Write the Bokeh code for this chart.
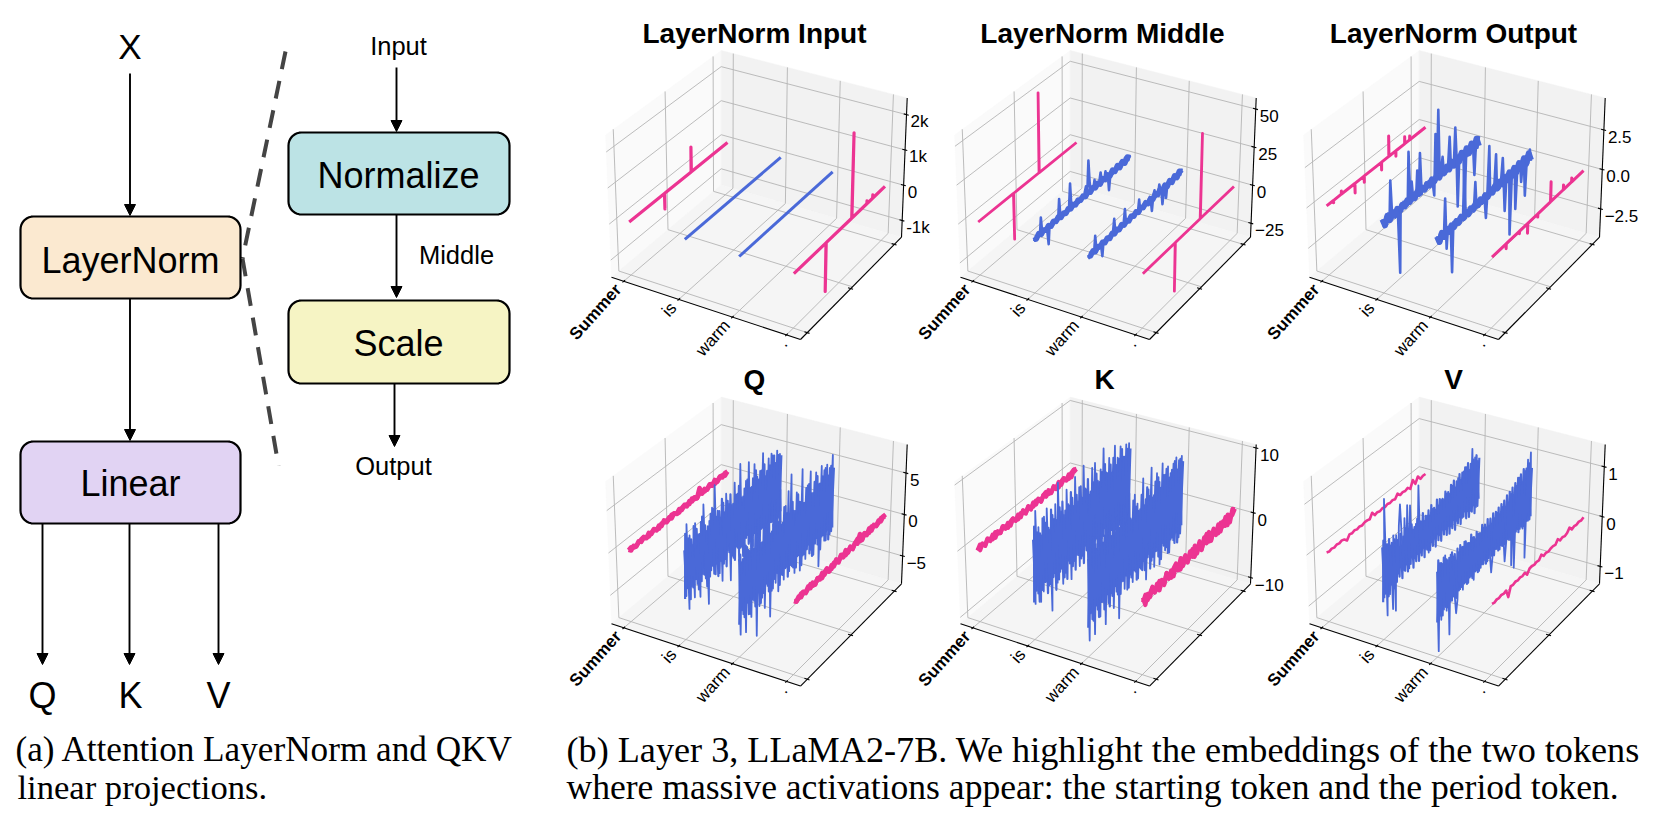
import numpy as np
from bokeh.plotting import figure
from bokeh.models import Range1d, Arrow, NormalHead
from bokeh.core.properties import value
from bokeh.embed import file_html
from bokeh.resources import INLINE

# ---------------- data ----------------
tokens = ["Summer", "is", "warm", "."]
dim_ticks = [0, 2000, 4000]

titles = ["LayerNorm Input", "LayerNorm Middle", "LayerNorm Output", "Q", "K", "V"]

input_z_ticks = [-1000, 0, 1000, 2000]
input_z_labels = ["-1k", "0", "1k", "2k"]
middle_z_ticks = [-25, 0, 25, 50]
middle_z_labels = ["\u221225", "0", "25", "50"]
output_z_ticks = [-2.5, 0.0, 2.5]
output_z_labels = ["\u22122.5", "0.0", "2.5"]
q_z_ticks = [-5, 0, 5]
q_z_labels = ["\u22125", "0", "5"]
k_z_ticks = [-10, 0, 10]
k_z_labels = ["\u221210", "0", "10"]
v_z_ticks = [-1, 0, 1]
v_z_labels = ["\u22121", "0", "1"]

input_summer_dim = [0, 1470, 1475, 1480, 2580, 2585, 2590, 4095]
input_summer_val = [0, 0, -440, 0, 0, 712, 0, 0]
input_is_dim = [0, 4095]
input_is_val = [0, 0]
input_warm_dim = [0, 4095]
input_warm_val = [0, 0]
input_period_dim = [0, 1446, 1450, 1454, 2601, 2605, 2609, 3280, 3285, 3290, 3540, 3545, 3550, 4095]
input_period_val = [0, 0, -1340, 0, 0, 2380, 0, 0, 80, 0, 0, 90, 0, 0]

middle_summer_dim = [0, 1470, 1475, 1480, 2535, 2540, 2545, 4095]
middle_summer_val = [0, 0, -30, 0, 0, 53, 0, 0]
middle_period_dim = [0, 1454, 1458, 1462, 2576, 2580, 2584, 4095]
middle_period_val = [0, 0, -31, 0, 0, 55, 0, 0]
middle_is = [1.2, -1.5, 0.8, -1.3, 1.0, -0.9, 10.0, -1.2, 0.9, -1.0,
             0.7, -1.4, -11.0, 1.1, -0.8, 1.3, -1.1, 0.6, -0.7, 1.0,
             -1.2, 12.0, -0.9, 0.8, -1.0, 1.2, -0.6, 0.9, -1.3, 0.7,
             16.0, -1.0, 0.8, -0.9, 1.1, -0.7, 0.6, -1.2, 0.9, -0.8,
             1.3, -1.0, 2.5, 5.5, -0.9, 21.0, 6.0, -1.1, 1.5, -0.7,
             5.0, -1.2, 1.0, -0.8, 1.4, 6.5, -0.9, 1.2, -1.0, 4.5,
             -1.1, 0.9, -10.0, -0.8, 1.6, -1.3, 1.0, -0.9, 1.7, -1.2,
             0.8, 2.0, -1.4, 1.5, -1.0, 2.4, -1.6, 2.2, -1.2, 1.8]
middle_is_band = [0.9, -1.0, 1.1, -0.8, 0.7, -0.9, 0.8, -1.0, 0.9, -0.7,
                  1.0, -0.8, 0.6, -0.9, 0.8, -0.7, 0.9, -0.8, 1.0, -0.6,
                  0.8, -0.9, 0.7, -0.8, 1.0, -0.7, 0.9, -1.0, 1.2, -0.8,
                  1.0, -1.1, 1.3, -1.0, 1.5, -1.2, 1.4, -1.1, 1.6, -1.0]
middle_warm = [1.0, -1.6, 1.3, -1.1, 0.9, -1.4, 9.0, -1.0, 1.2, -1.3,
               0.8, -1.0, -8.0, 1.1, -1.2, 0.7, -0.9, 1.0, -1.3, 0.8,
               -1.0, 1.2, 9.0, -0.8, 1.0, -1.1, 0.7, -0.9, 1.2, -1.0,
               0.6, 9.2, -1.0, 0.9, -1.2, 1.0, -0.7, 0.9, -1.1, 0.8,
               -0.9, 1.3, -1.0, 7.0, -1.2, 1.1, -0.8, 1.4, -1.0, 0.9,
               -1.1, 1.2, 2.5, -0.9, -8.0, 1.4, 4.0, -1.0, 1.3, -1.1,
               5.0, 1.0, -0.9, -10.0, -1.0, 1.5, -8.0, 1.2, -1.2, 1.6,
               -1.1, 1.4, -1.5, 2.0, -1.0, 1.8, -1.6, 2.6, -1.3, 2.2]
middle_warm_band = [1.0, -0.9, 0.8, -1.1, 0.9, -0.7, 0.8, -0.9, 0.7, -1.0,
                    0.9, -0.8, 0.7, -0.9, 1.0, -0.8, 0.6, -0.9, 0.9, -0.7,
                    0.8, -1.0, 0.9, -0.7, 1.1, -0.9, 0.8, -1.0, 1.1, -0.8,
                    1.2, -1.0, 1.3, -1.1, 1.4, -1.2, 1.6, -1.0, 1.8, -1.2]

output_summer_dim = [0, 283, 287, 291, 610, 614, 618, 1167, 1171, 1175, 1552, 1556, 1560, 2269, 2273, 2277,
                     2576, 2580, 2584, 2863, 2867, 2871, 3231, 3235, 3239, 3436, 3440, 3444, 4095]
output_summer_val = [0, 0, -0.15, 0, 0, 0.2, 0, 0, -0.6, 0, 0, -0.4, 0, 0, -0.5, 0,
                     0, 1.3, 0, 0, -0.35, 0, 0, 0.45, 0, 0, 0.25, 0, 0]
output_period_dim = [0, 631, 635, 639, 1224, 1228, 1232, 1593, 1597, 1601, 2044, 2048, 2052,
                     2617, 2621, 2625, 3190, 3194, 3198, 3559, 3563, 3567, 4095]
output_period_val = [0, 0, -0.3, 0, 0, -0.15, 0, 0, -0.6, 0, 0, -0.2, 0,
                     0, 1.25, 0, 0, 0.3, 0, 0, 0.25, 0, 0]
output_is = [0.25, -0.3, 0.2, -0.25, 0.3, -0.2, 2.2, -0.25, 0.2, -0.3,
             0.22, -0.18, -3.95, 0.2, -0.25, 0.24, -0.2, 0.18, -0.22, 3.05,
             -0.2, 1.06, -0.18, 0.2, -0.24, 1.45, -0.2, 2.4, -0.22, 0.18,
             -0.2, 0.24, -0.18, 0.2, -0.22, 0.18, -0.2, -1.0, 2.8, 0.2,
             4.2, -0.2, 0.22, 1.0, -0.24, 0.2, -0.18, 0.24, 1.9, -0.2,
             0.22, -0.24, 2.2, 0.2, -3.0, 0.24, -0.2, 0.26, -0.22, -3.1,
             0.24, -0.26, 0.28, -0.2, 0.3, -0.28, -1.9, 0.34, -0.3, 0.38]
output_is_band = [0.24, -0.26, 0.2, -0.18, 0.14, -0.16, 0.12, -0.14, 0.1, -0.12,
                  0.13, -0.11, 0.1, -0.13, 0.12, -0.1, 0.13, -0.12, 0.1, -0.12,
                  0.14, -0.11, 0.13, -0.14, 0.16, -0.12, 0.15, -0.16, 0.2, -0.18,
                  0.22, -0.2, 0.24, -0.22, 0.26, -0.2, 0.3, -0.24, 0.34, -0.26]
output_warm = [0.24, -0.28, 0.2, -0.3, 0.22, -0.25, 2.1, -1.05, 0.2, -0.24,
               0.18, -2.8, 0.22, -0.2, 0.24, -0.18, 0.2, -0.22, 0.18, -0.2,
               3.3, -0.22, 0.2, -0.18, 0.24, -0.2, 0.18, -0.24, 1.5, -0.2,
               0.22, -0.18, 0.2, -0.24, 0.18, -0.2, -1.35, 0.22, 3.0, -0.2,
               0.24, -0.18, 0.2, 2.1, -0.22, 0.18, -0.24, 0.2, 1.5, -0.2,
               -2.0, 0.22, -0.24, 0.2, -3.8, 0.26, -0.2, 0.24, -2.5, 0.28,
               -0.22, 0.26, -1.1, 0.3, -0.26, -2.2, 0.34, -0.28, 0.5, -0.3]
output_warm_band = [0.22, -0.24, 0.18, -0.2, 0.14, -0.15, 0.12, -0.13, 0.11, -0.12,
                    0.12, -0.1, 0.11, -0.13, 0.1, -0.11, 0.12, -0.1, 0.13, -0.11,
                    0.12, -0.13, 0.14, -0.12, 0.15, -0.13, 0.16, -0.14, 0.18, -0.16,
                    0.2, -0.18, 0.22, -0.2, 0.25, -0.2, 0.28, -0.22, 0.32, -0.24]

q_summer = [0.14, -0.18, 0.12, -0.15, 0.2, -0.12, 0.16, -0.17, 0.24, -0.14,
            0.15, -0.2, 0.13, -0.16, 0.28, -0.12, 0.17, -0.2, 0.16, -0.14,
            0.2, -0.16, 0.13, -0.22, 0.18, -0.12, 0.16, -0.18, 0.8, -0.15,
            0.2, -0.14, 0.17, -0.16, 0.3, -0.16, 0.18, -0.14, 0.17, 0.1]
q_summer_band = [0.1, 0.2, -0.08, -0.22, 0.05, 0.18, 0.24, -0.1, -0.2, 0.02,
                 0.22, -0.12, -0.24, 0.16, 0.08, -0.2, -0.06, 0.26, 0.12, -0.16,
                 -0.24, 0.1, 0.22, 0.02, -0.18, 0.26, -0.08, -0.22, 0.14, 0.2,
                 -0.14, -0.04, 0.28, 0.06, -0.2, -0.1, 0.24, 0.14, -0.18, 0.08]
q_period = [0.14, -0.17, 0.13, -0.2, 0.18, -0.14, 0.26, -0.16, 0.2, -0.26,
            0.15, -0.2, 0.3, -0.16, 0.24, -0.32, 0.17, -0.22, 0.34, -0.16,
            0.24, -0.2, 0.38, -0.17, 0.22, -0.28, 0.2, -0.16, 0.72, -0.22,
            0.3, -0.18, 0.34, -0.2, 0.24, -0.16, 0.22, -0.14, 0.2, 0.15]
q_period_band = [0.12, -0.2, -0.06, 0.22, 0.16, -0.24, 0.04, 0.3, -0.16, -0.28,
                 0.2, 0.08, -0.3, 0.14, 0.34, -0.12, -0.26, 0.22, 0.04, -0.3,
                 0.36, 0.1, -0.22, -0.08, 0.3, -0.2, 0.16, 0.42, -0.14, -0.26,
                 0.24, 0.06, -0.22, 0.32, 0.12, -0.18, -0.06, 0.26, 0.14, -0.1]
q_is = [2.1, -3.4, 4.9, -5.2, 3.3, -2.8, 1.9, -4.4, 4.2, -3.1,
        2.6, -4.9, 3.8, -2.5, 5.6, -3.3, 2.2, -6.6, 3.1, -2.9,
        4.4, -3.6, 6.8, -2.7, 3.5, -4.1, 2.4, -5.3, 3.9, -3.0,
        4.7, -2.2, 3.2, -6.1, 2.8, -3.7, 5.2, -2.6, 3.6, -4.6,
        6.9, -3.2, 2.7, -3.9, 4.3, -2.4, 6.3, -3.5, 3.0, -4.3,
        5.5, -2.9, 3.7, -5.0, 4.1, -3.1, 6.0, -3.8, 2.9, -4.2,
        4.8, -2.8, 5.1, -3.4, 4.6, -4.7, 4.9, -3.6, 4.2, -3.0]
q_is_band = [-3.6, 3.9, -2.6, 3.1, -4.2, 2.7, -3.1, 4.0, -2.4, 3.4,
             -3.9, 2.5, -3.2, 4.3, -2.7, 3.0, -4.4, 2.6, -3.5, 3.8,
             -2.5, 4.1, -3.8, 2.9, -4.3, 3.3, -2.8, 4.5, -3.4, 2.6,
             -4.0, 3.7, -2.6, 4.2, -3.3, 2.8, -4.1, 3.6, -2.9, 4.4,
             -3.2, 2.7, -4.5, 3.5, -2.6, 4.3, -3.6, 3.0, -4.2, 3.9,
             -2.9, 4.6, -3.7, 3.2, -4.4, 4.0, -3.1, 4.5, -3.9, 3.4,
             -4.6, 3.8, -3.3, 4.7, -4.1, 3.5, -4.5, 4.2, -3.6, 3.9]
q_warm = [3.0, -5.9, 2.4, -3.8, 4.3, -6.2, 3.6, -4.4, 2.9, -5.0,
          3.9, -3.4, 5.1, -7.8, 3.2, -4.6, 2.7, -3.9, 4.6, -5.4,
          3.4, -3.1, 5.5, -7.0, 2.9, -4.0, 6.2, -3.6, 3.8, -4.9,
          7.0, -3.2, 2.8, -4.1, 4.5, -2.9, 6.0, -3.7, 7.7, -3.4,
          3.1, -4.5, 5.0, -2.8, 3.6, -4.8, 7.2, -3.3, 2.9, -4.0,
          4.7, -2.6, 6.1, -3.5, 3.2, -4.4, 5.4, -2.7, 3.7, -6.4,
          5.6, -3.1, 4.8, -3.9, 5.2, -2.9, 4.5, -3.7, 5.8, -3.2]
q_warm_band = [-4.6, 3.4, -3.2, 2.6, -4.3, 3.9, -2.9, 3.1, -4.5, 3.7,
               -3.1, 2.7, -4.2, 4.1, -2.8, 3.2, -4.4, 2.6, -3.5, 3.9,
               -2.7, 4.2, -3.9, 2.8, -4.1, 3.6, -3.0, 4.4, -2.6, 3.3,
               -4.3, 2.7, -3.4, 4.5, -2.9, 3.5, -4.2, 2.8, -3.1, 4.3,
               -3.7, 2.9, -4.0, 4.6, -2.8, 3.4, -4.3, 3.0, -3.3, 4.5,
               -3.0, 4.7, -3.8, 3.3, -4.4, 4.4, -3.2, 4.8, -3.6, 3.6,
               -4.5, 4.2, -3.1, 4.9, -4.0, 3.7, -4.2, 4.6, -3.5, 4.1]

k_summer = [0.3, -0.45, 0.25, -0.32, 0.4, -0.28, 0.34, -0.4, 0.28, -0.3,
            0.44, -0.25, 0.3, -0.38, 0.36, -0.28, 0.34, -0.36, 0.42, -0.3,
            0.28, -0.4, 0.36, -0.26, 0.34, -0.44, 0.3, -0.28, 0.38, -0.34,
            0.26, -0.36, 0.42, -0.3, 0.34, -0.28, 0.36, -0.38, 0.5, 0.3]
k_summer_band = [-0.2, 0.4, 0.1, -0.42, 0.3, 0.05, -0.36, 0.46, -0.1, -0.3,
                 0.38, 0.12, -0.44, 0.22, 0.4, -0.16, -0.38, 0.3, 0.02, -0.42,
                 0.44, -0.06, -0.3, 0.36, 0.14, -0.4, 0.28, 0.46, -0.2, -0.34,
                 0.4, -0.02, -0.44, 0.24, 0.42, -0.12, -0.36, 0.32, 0.46, -0.24]
k_period = [0.4, -1.0, 0.3, -0.5, 0.6, -0.4, 0.5, -0.8, 0.4, -0.55,
            0.75, -0.4, 0.5, -0.7, 0.6, -0.45, 1.0, -0.5, 0.55, -0.65,
            0.7, -0.45, 0.9, -0.6, 0.5, -0.75, 0.8, -0.4, 0.95, -0.6,
            0.6, -0.5, 0.75, -0.65, 0.55, -0.45, 0.9, -0.6, 1.1, 0.7]
k_period_band = [-0.3, 0.5, -0.6, 0.1, 0.7, -0.5, -0.1, 0.6, 0.2, -0.7,
                 0.8, -0.2, -0.6, 0.5, 0.9, -0.4, -0.7, 0.3, 0.8, -0.5,
                 0.1, 0.7, -0.8, -0.1, 0.9, -0.6, 0.4, 1.0, -0.5, -0.7,
                 0.8, 0.2, -0.6, 0.7, -0.2, 0.9, -0.7, 0.5, 0.2, 0.8]
k_is = [4.0, -5.8, 8.0, -4.6, 5.2, -6.2, 3.6, -5.0, 6.1, -3.9,
        7.0, -4.8, 3.4, -9.0, 5.3, -3.7, 6.6, -5.5, 9.5, -4.2,
        4.8, -6.4, 3.9, -5.1, 7.4, -3.6, 4.6, -6.8, 5.5, -4.4,
        8.3, -3.8, 4.2, -5.9, 6.2, -4.7, 9.0, -3.5, 5.0, -6.0,
        3.8, -5.2, 7.6, -4.1, 8.0, -3.9, 4.9, -6.5, 6.3, -4.6,
        9.2, -3.4, 5.1, -5.6, 7.0, -4.3, 4.4, -6.7, 8.2, -5.0,
        6.0, -4.2, 7.4, -6.9, 5.4, -4.8, 7.0, -5.7, 6.8, -7.0]
k_is_band = [-5.4, 5.8, -4.0, 4.6, -6.0, 4.1, -4.6, 6.0, -3.8, 5.0,
             -5.8, 3.9, -4.8, 6.3, -4.1, 4.5, -6.4, 4.0, -5.2, 5.6,
             -3.9, 6.1, -5.6, 4.4, -6.2, 5.0, -4.2, 6.5, -5.0, 4.0,
             -5.9, 5.4, -4.0, 6.2, -4.9, 4.2, -6.0, 5.3, -4.4, 6.4,
             -4.8, 4.1, -6.5, 5.2, -4.0, 6.2, -5.3, 4.5, -6.1, 5.7,
             -4.4, 6.6, -5.5, 4.8, -6.4, 5.8, -4.6, 6.5, -5.7, 5.0,
             -6.6, 5.6, -4.9, 6.8, -6.0, 5.2, -6.5, 6.1, -5.3, 5.8]
k_warm = [3.6, -8.7, 4.8, -5.9, 6.2, -8.5, 4.1, -5.2, 3.5, -6.6,
          7.1, -4.8, 5.0, -8.5, 3.8, -5.7, 6.4, -4.6, 4.5, -7.2,
          3.9, -5.1, 6.0, -9.5, 5.2, -4.3, 7.0, -5.8, 4.0, -6.3,
          8.1, -4.4, 3.7, -5.9, 7.2, -4.7, 5.5, -6.1, 4.3, -5.0,
          8.6, -4.2, 5.1, -7.4, 6.2, -3.9, 9.2, -5.3, 4.6, -6.6,
          7.6, -4.5, 5.9, -7.0, 8.4, -4.1, 6.3, -5.6, 7.2, -6.4,
          5.8, -4.7, 6.9, -5.2, 7.5, -4.4, 6.7, -5.5, 7.0, -4.0]
k_warm_band = [-6.6, 5.0, -4.8, 4.0, -6.3, 5.8, -4.4, 4.6, -6.5, 5.4,
               -4.6, 4.1, -6.1, 6.0, -4.2, 4.8, -6.4, 4.0, -5.2, 5.7,
               -4.1, 6.1, -5.7, 4.2, -6.0, 5.3, -4.4, 6.4, -4.0, 4.9,
               -6.2, 4.1, -5.0, 6.5, -4.3, 5.2, -6.1, 4.2, -4.6, 6.3,
               -5.4, 4.3, -5.8, 6.7, -4.2, 5.0, -6.3, 4.4, -4.9, 6.5,
               -4.4, 6.8, -5.6, 4.8, -6.4, 6.4, -4.7, 7.0, -5.3, 5.3,
               -6.5, 6.1, -4.6, 7.1, -5.8, 5.4, -6.1, 6.7, -5.1, 6.0]

v_summer = [0.012, -0.01, 0.008, -0.012, 0.01, -0.008, 0.012, -0.01, -0.07, 0.01,
            -0.008, 0.012, -0.01, 0.008, -0.012, 0.01, 0.008, -0.01, 0.08, -0.008,
            0.01, -0.012, 0.008, -0.01, 0.012, -0.008, 0.01, -0.012, 0.06, -0.01,
            0.008, -0.01, 0.012, -0.05, 0.09, -0.03, 0.08, -0.01, 0.012, 0.008]
v_period = [0.008, -0.01, 0.01, -0.008, 0.012, -0.01, 0.008, -0.16, 0.01, -0.008,
            0.012, -0.01, 0.008, -0.012, 0.01, -0.07, 0.008, 0.012, -0.01, 0.008,
            -0.01, 0.06, -0.008, 0.01, -0.012, 0.008, 0.01, -0.01, 0.06, -0.008,
            0.01, -0.012, 0.008, 0.07, -0.01, 0.01, -0.008, 0.012, -0.01, 0.01]
v_is = [0.45, -0.55, 1.35, -0.95, 0.42, -0.58, 0.35, -0.92, 0.5, -1.0,
        0.46, -0.32, 0.6, 1.0, 0.3, -0.34, 0.66, -0.28, 0.87, -0.4,
        0.82, -0.24, 0.3, -0.3, 0.36, -0.26, 1.08, -0.28, 0.32, -0.24,
        0.28, -0.3, 0.34, -0.42, 0.3, -0.26, 0.38, -0.24, 0.32, -0.2,
        0.36, -0.26, 0.42, -0.2, 0.38, -0.24, 0.46, -0.22, 0.4, -0.28,
        0.52, -0.2, 0.44, -0.26, 0.58, -0.24, 0.5, -0.3, 0.62, -0.22,
        0.66, -0.26, 0.56, -0.3, 0.94, -0.24, 0.72, -0.32, 0.6, -0.2]
v_is_band = [-0.62, 0.56, -0.5, 0.44, -0.6, 0.5, -0.42, 0.38, -0.54, 0.4,
             -0.46, 0.34, -0.4, 0.42, -0.48, 0.32, -0.38, 0.44, -0.44, 0.36,
             -0.34, 0.42, -0.46, 0.32, -0.38, 0.44, -0.42, 0.34, -0.36, 0.46,
             -0.44, 0.36, -0.34, 0.42, -0.4, 0.48, -0.36, 0.38, -0.42, 0.5,
             -0.34, 0.46, -0.4, 0.42, -0.32, 0.52, -0.38, 0.46, -0.4, 0.56,
             -0.34, 0.6, -0.42, 0.54, -0.34, 0.64, -0.4, 0.62, -0.3, 0.68,
             -0.38, 0.72, -0.4, 0.66, -0.34, 0.7, -0.42, 0.74, -0.32, 0.64]
v_warm = [0.3, -1.26, 0.42, -0.7, 0.36, -0.55, 0.48, -0.62, 0.34, -1.13,
          0.4, -0.52, 0.32, -0.48, -0.84, -0.6, 0.3, -0.44, 0.36, -0.5,
          0.42, -0.4, 0.34, -0.46, 0.3, -0.38, 0.36, -0.5, 0.28, -0.36,
          0.34, -0.42, 0.3, -0.34, 0.36, -0.3, 0.32, -0.38, 0.3, -0.32,
          -0.67, -0.34, 0.36, -0.28, 0.42, -0.36, 0.34, -0.3, 0.44, -0.26,
          -0.7, -0.32, 0.42, -0.34, 0.56, -0.9, 0.48, -1.0, 0.62, -0.28,
          0.74, -0.32, 0.6, -0.36, 0.78, -1.0, 0.96, -0.3, 1.06, -0.26]
v_warm_band = [-0.68, 0.5, -0.6, 0.4, -0.64, 0.46, -0.52, 0.38, -0.58, 0.36,
               -0.5, 0.42, -0.46, 0.34, -0.54, 0.4, -0.44, 0.42, -0.42, 0.34,
               -0.4, 0.4, -0.46, 0.32, -0.38, 0.44, -0.44, 0.34, -0.36, 0.4,
               -0.42, 0.32, -0.38, 0.44, -0.36, 0.4, -0.4, 0.46, -0.34, 0.42,
               -0.34, 0.48, -0.38, 0.46, -0.3, 0.5, -0.36, 0.52, -0.34, 0.54,
               -0.36, 0.6, -0.3, 0.62, -0.36, 0.66, -0.32, 0.7, -0.3, 0.76,
               -0.36, 0.78, -0.3, 0.84, -0.34, 0.8, -0.28, 0.86, -0.3, 0.72]

# ---------------- canvas ----------------
PINK = "#ec3492"
BLUE = "#4a69d8"
SANS = value("Liberation Sans")

p = figure(width=1668, height=816, x_range=Range1d(0, 1668), y_range=Range1d(816, 0),
           toolbar_location=None, output_backend="svg", min_border=0,
           x_axis_location=None, y_axis_location=None)
p.grid.visible = False
p.outline_line_color = None


def label(x, y, s, size, bold=False, align="center", angle=0.0, font=SANS, baseline="middle"):
    p.text([x], [y], text=[s], text_font=font, text_font_size=value(f"{size}px"),
           text_font_style="bold" if bold else "normal", text_align=align,
           text_baseline=baseline, angle=angle, angle_units="deg", text_color="black")


# ---------------- diagram ----------------
def box(x0, x1, y0, y1, fill, r=13.0):
    cx = [x1 - r, x1 - r, x0 + r, x0 + r]
    cy = [y0 + r, y1 - r, y1 - r, y0 + r]
    starts = [-np.pi / 2, 0, np.pi / 2, np.pi]
    xs, ys = [], []
    for a, b, s in zip(cx, cy, starts):
        t = np.linspace(s, s + np.pi / 2, 10)
        xs += list(a + r * np.cos(t))
        ys += list(b + r * np.sin(t))
    p.patch(xs, ys, fill_color=fill, line_color="black", line_width=2.2)


def arrow(x0, y0, x1, y1):
    p.add_layout(Arrow(end=NormalHead(size=11, fill_color="black", line_color="black", line_width=1),
                       x_start=x0, y_start=y0, x_end=x1, y_end=y1,
                       line_color="black", line_width=1.9))


p.line([285, 242], [51, 258], line_color="#444444", line_width=4, line_dash="18 12")
p.line([242, 278], [258, 465], line_color="#444444", line_width=4, line_dash="18 12")

arrow(129.5, 73, 129.5, 215)
arrow(129.5, 298, 129.5, 440)
arrow(42, 523, 42, 664)
arrow(129, 523, 129, 664)
arrow(218, 523, 218, 664)
arrow(396, 67, 396, 131)
arrow(396, 214, 396, 297)
arrow(394, 383, 394, 446)

box(20, 240, 216, 298, "#fbe9d0")
box(20, 240, 441, 523, "#e1d3f3")
box(288, 509, 132, 214, "#bce3e5")
box(288, 509, 300, 383, "#f6f4c4")

label(129.5, 46, "X", 35)
label(130, 260, "LayerNorm", 36)
label(130, 483, "Linear", 36)
label(42, 695, "Q", 36)
label(130, 695, "K", 36)
label(218, 695, "V", 36)
label(398, 45, "Input", 25.5)
label(398, 175, "Normalize", 36)
label(456, 254, "Middle", 25.5)
label(398, 343, "Scale", 36)
label(393, 465, "Output", 25.5)

SERIF = value("Liberation Serif")
label(15, 749, "(a) Attention LayerNorm and QKV", 35.2, align="left", font=SERIF)
label(17, 786, "linear projections.", 34.6, align="left", font=SERIF)
label(566, 749, "(b) Layer 3, LLaMA2-7B. We highlight the embeddings of the two tokens", 36.2,
      align="left", font=SERIF)
label(566, 786, "where massive activations appear: the starting token and the period token.", 35.6,
      align="left", font=SERIF)

# ---------------- 3D panels ----------------
A = np.array([0.0, 0.0]); B = np.array([189.0, 62.3]); C = np.array([290.0, -40.0]); D = np.array([109.7, -92.3])
E = np.array([-6.0, -142.3]); F = np.array([190.7, -84.3]); G = np.array([295.7, -179.3]); H = np.array([109.7, -226.7])
U_TOK = [0.065, 0.356, 0.64, 0.926]
V_TICK = [0.067, 0.515, 0.93]
V_FULL = 0.95


def project(origin, u, v, w):
    u, v, w = np.broadcast_arrays(np.asarray(u, float), np.asarray(v, float), np.asarray(w, float))
    bot = ((1 - u) * (1 - v))[..., None] * A + (u * (1 - v))[..., None] * B + (u * v)[..., None] * C + ((1 - u) * v)[..., None] * D
    top = ((1 - u) * (1 - v))[..., None] * E + (u * (1 - v))[..., None] * F + (u * v)[..., None] * G + ((1 - u) * v)[..., None] * H
    pt = bot + w[..., None] * (top - bot)
    return pt[..., 0] + origin[0], pt[..., 1] + origin[1]


def v_of_dim(dim):
    return V_TICK[0] + np.asarray(dim, float) / 4095.0 * (V_FULL - V_TICK[0])


def seg(origin, a, b, **kw):
    x, y = project(origin, [a[0], b[0]], [a[1], b[1]], [a[2], b[2]])
    p.line(x, y, **kw)


def panel(origin, title, title_xy, z_ticks, z_labels, z_w, series, width_pink, width_blue, bands=None, band_width=2.2):
    w_of = lambda z: z_w[0] + (np.asarray(z, float) - z_ticks[0]) * (z_w[-1] - z_w[0]) / (z_ticks[-1] - z_ticks[0])

    def corners(pts, color):
        us, vs, ws = zip(*pts)
        x, y = project(origin, us, vs, ws)
        p.patch(x, y, fill_color=color, line_color=color, line_width=0.5)

    corners([(0, 0, 0), (0, 1, 0), (0, 1, 1), (0, 0, 1)], "#fafafa")
    corners([(0, 1, 0), (1, 1, 0), (1, 1, 1), (0, 1, 1)], "#f2f2f2")
    corners([(0, 0, 0), (1, 0, 0), (1, 1, 0), (0, 1, 0)], "#f5f5f5")

    grid = dict(line_color="#b4b4b4", line_width=0.9)
    for u in U_TOK:
        seg(origin, (u, 0, 0), (u, 1, 0), **grid)
        seg(origin, (u, 1, 0), (u, 1, 1), **grid)
    for v in V_TICK:
        seg(origin, (0, v, 0), (1, v, 0), **grid)
        seg(origin, (0, v, 0), (0, v, 1), **grid)
    for z in z_ticks:
        w = float(w_of(z))
        seg(origin, (0, 0, w), (0, 1, w), **grid)
        seg(origin, (0, 1, w), (1, 1, w), **grid)

    # spines and ticks
    spine = dict(line_color="black", line_width=1.1)
    seg(origin, (0, 0, 0), (1, 0, 0), **spine)
    seg(origin, (1, 0, 0), (1, 1, 0), **spine)
    seg(origin, (1, 1, 0), (1, 1, 1), **spine)
    for u in U_TOK:
        seg(origin, (u, -0.012, 0), (u, 0.012, 0), **spine)
    for dim in dim_ticks:
        v = float(v_of_dim(dim))
        seg(origin, (0.985, v, 0), (1.012, v, 0), **spine)
    for z, lab in zip(z_ticks, z_labels):
        w = float(w_of(z))
        seg(origin, (0.985, 1, w), (1.012, 1, w), **spine)
        x, y = project(origin, 1.0, 1.0, w)
        label(float(x) + 4, float(y) + 7, lab, 17, align="left")

    # token labels
    for i, (u, tok) in enumerate(zip(U_TOK, tokens)):
        x, y = project(origin, u, 0.0, 0.0)
        dx = -2.5 if tok == "." else -5.5
        label(float(x) + dx, float(y) + 5.5, tok, 17, bold=(i == 0), align="right", angle=48)

    # series
    bands = bands or {}
    for i, (dim, val) in enumerate(series):
        pink = i in (0, 3)
        color = PINK if pink else BLUE
        lw = width_pink if pink else width_blue
        if i in bands:
            b = bands[i]
            bd = np.linspace(0, 4095, len(b))
            x, y = project(origin, np.full(len(b), U_TOK[i]), v_of_dim(bd), w_of(b))
            p.line(x, y, line_color=color, line_width=band_width[i] if isinstance(band_width, dict) else band_width,
                   line_join="round", line_cap="butt")
        dim = np.linspace(0, 4095, len(val)) if dim is None else np.asarray(dim, float)
        x, y = project(origin, np.full(len(dim), U_TOK[i]), v_of_dim(dim), w_of(val))
        p.line(x, y, line_color=color, line_width=lw, line_join="round", line_cap="butt")

    label(title_xy[0], title_xy[1], title, 28, bold=True)


X0, X1, X2 = 611.0, 960.0, 1309.0
Y0, Y1 = 276.7, 623.3

panel((X0, Y0), titles[0], (754, 33), input_z_ticks, input_z_labels, [0.12, 0.37, 0.62, 0.88],
      [(input_summer_dim, input_summer_val), (input_is_dim, input_is_val),
       (input_warm_dim, input_warm_val), (input_period_dim, input_period_val)], 3.2, 3.0)
panel((X1, Y0), titles[1], (1102, 33), middle_z_ticks, middle_z_labels, [0.10, 0.37, 0.646, 0.92],
      [(middle_summer_dim, middle_summer_val), (None, middle_is),
       (None, middle_warm), (middle_period_dim, middle_period_val)], 2.8, 2.6,
      bands={1: middle_is_band, 2: middle_warm_band}, band_width=5.5)
panel((X2, Y0), titles[2], (1453, 33), output_z_ticks, output_z_labels, [0.203, 0.483, 0.77],
      [(output_summer_dim, output_summer_val), (None, output_is), (None, output_warm),
       (output_period_dim, output_period_val)], 3.0, 2.6,
      bands={1: output_is_band, 2: output_warm_band}, band_width=6.0)
panel((X0, Y1), titles[3], (754, 379), q_z_ticks, q_z_labels, [0.20, 0.495, 0.795],
      [(None, q_summer), (None, q_is), (None, q_warm), (None, q_period)], 4.6, 1.8,
      bands={0: q_summer_band, 1: q_is_band, 2: q_warm_band, 3: q_period_band},
      band_width={0: 4.4, 1: 2.2, 2: 2.2, 3: 4.4})
panel((X1, Y1), titles[4], (1104, 379), k_z_ticks, k_z_labels, [0.045, 0.50, 0.975],
      [(None, k_summer), (None, k_is), (None, k_warm), (None, k_period)], 4.4, 1.8,
      bands={0: k_summer_band, 1: k_is_band, 2: k_warm_band, 3: k_period_band},
      band_width={0: 4.2, 1: 2.2, 2: 2.2, 3: 4.2})
panel((X2, Y1), titles[5], (1453, 379), v_z_ticks, v_z_labels, [0.125, 0.48, 0.84],
      [(None, v_summer), (None, v_is), (None, v_warm), (None, v_period)], 2.6, 1.8,
      bands={1: v_is_band, 2: v_warm_band}, band_width=2.2)

open("out.html", "w").write(file_html(p, INLINE))
